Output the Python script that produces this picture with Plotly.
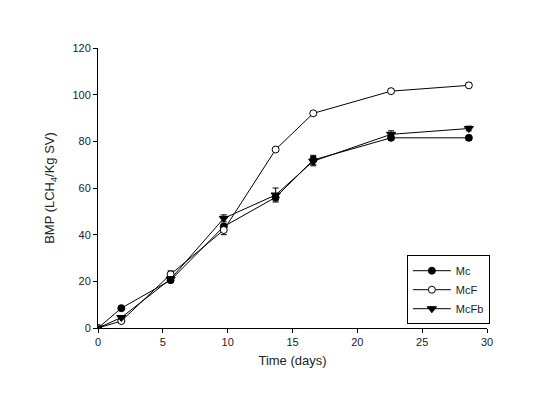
import plotly.graph_objects as go

days = [0, 1.8, 5.6, 9.7, 13.7, 16.6, 22.6, 28.6]
mc = [0, 8.5, 20.5, 43.5, 56, 72, 81.5, 81.5]
mc_err = [0, 0.5, 1.0, 1.0, 1.5, 2.0, 1.0, 1.0]
mcf = [0, 3, 23, 42, 76.5, 92, 101.5, 104]
mcf_err = [0, 0.5, 1.5, 2.0, 0.5, 0.8, 1.0, 1.0]
mcfb = [0, 4.5, 21, 47, 57, 71.5, 83, 85.5]
mcfb_err = [0, 0.5, 1.0, 1.5, 3.0, 2.0, 1.5, 1.0]

x_ticks = [0, 5, 10, 15, 20, 25, 30]
y_ticks = [0, 20, 40, 60, 80, 100, 120]

fig = go.Figure()

def add(name, y, err, symbol, fill, size):
    fig.add_trace(go.Scatter(
        x=days, y=y, name=name, mode="lines+markers",
        line=dict(color="black", width=1),
        marker=dict(symbol=symbol, size=size, color=fill,
                    line=dict(color="black", width=1)),
        error_y=dict(type="data", array=err, color="black", thickness=1, width=3),
    ))

add("Mc", mc, mc_err, "circle", "black", 7)
add("McF", mcf, mcf_err, "circle", "white", 7)
add("McFb", mcfb, mcfb_err, "triangle-down", "black", 8)

axis_common = dict(
    showline=True, linecolor="black", linewidth=1, ticks="outside",
    ticklen=4, tickcolor="black", showgrid=False, zeroline=False,
    automargin=False,
    tickfont=dict(family="Liberation Sans, Arial", size=11, color="#222"),
)

fig.update_layout(
    width=550, height=395,
    margin=dict(l=98, r=63, t=48, b=67),
    paper_bgcolor="white", plot_bgcolor="white",
    font=dict(family="Liberation Sans, Arial", size=12, color="#222"),
    xaxis=dict(range=[0, 30], tickvals=x_ticks,
               title=dict(text="Time (days)", font=dict(size=13), standoff=8),
               **axis_common),
    yaxis=dict(range=[0, 120], tickvals=y_ticks,
               title=dict(text="BMP (LCH<sub>4</sub>/Kg SV)", font=dict(size=13), standoff=14),
               **axis_common),
    legend=dict(x=0.794, y=0.26, xanchor="left", yanchor="top",
                bordercolor="black", borderwidth=1, bgcolor="white",
                font=dict(size=11), tracegroupgap=0, itemwidth=38),
    showlegend=True,
)

fig.write_html("out.html", config={"displayModeBar": False},
               post_script="document.body.style.margin='0';")
